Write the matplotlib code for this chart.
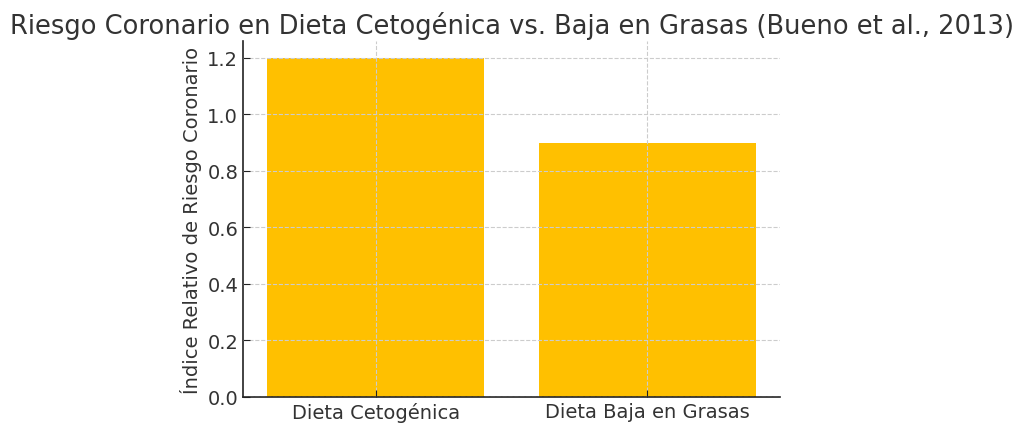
import matplotlib
matplotlib.use("Agg")
import matplotlib.pyplot as plt

categorias = ["Dieta Cetogénica", "Dieta Baja en Grasas"]
riesgo = [1.2, 0.9]

titulo = "Riesgo Coronario en Dieta Cetogénica vs. Baja en Grasas (Bueno et al., 2013)"
etiqueta_y = "Índice Relativo de Riesgo Coronario"

texto = "#333333"

fig = plt.figure(figsize=(10.24, 4.35), dpi=100)
ax = fig.add_axes([243 / 1024, 37 / 435, 537 / 1024, 356 / 435])

ax.bar(categorias, riesgo, color="#FFC000", width=0.8, zorder=1)

ax.grid(True, linestyle="--", color="#cccccc", linewidth=0.8, zorder=0)
ax.set_axisbelow(False)
for s in ["top", "right"]:
    ax.spines[s].set_visible(False)
for s in ["left", "bottom"]:
    ax.spines[s].set_color("#222222")
    ax.spines[s].set_linewidth(1.2)

ax.tick_params(direction="in", length=5, labelsize=14, colors="#222222", labelcolor=texto)
ax.set_ylabel(etiqueta_y, fontsize=14, color=texto)
ax.set_title(titulo, fontsize=18.5, color=texto, pad=6)

fig.savefig("out.png", dpi=100)
